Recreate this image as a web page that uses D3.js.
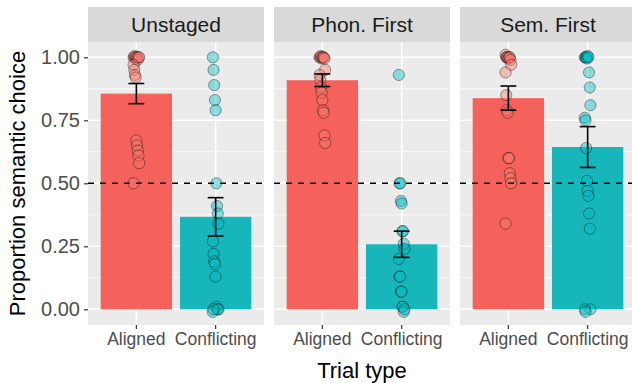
<!DOCTYPE html>
<html>
<head>
<meta charset="utf-8">
<script src="https://cdn.jsdelivr.net/npm/d3@7/dist/d3.min.js"></script>
<style>
  html, body { margin: 0; padding: 0; background: #fff; }
  svg { display: block; font-family: "Liberation Sans", Arial, Helvetica, sans-serif; }
</style>
</head>
<body>
<svg id="chart" width="632" height="383"></svg>
<script>
// Facets and trial types
const panels = ["Unstaged", "Phon. First", "Sem. First"];
const trialTypes = ["Aligned", "Conflicting"];

// Group means and standard errors per facet
const meanAligned = [0.856, 0.909, 0.838];
const meanConflicting = [0.367, 0.258, 0.644];
const seAligned = [0.040, 0.025, 0.048];
const seConflicting = [0.076, 0.052, 0.081];

// Individual participant proportions
const unstagedAligned = [1.0, 1.0, 1.005, 0.995, 1.0, 1.0, 0.99, 1.0, 1.0, 0.97, 0.95, 0.93, 0.92, 0.67, 0.65, 0.63, 0.61, 0.58, 0.50];
const unstagedConflicting = [1.0, 0.95, 0.89, 0.83, 0.79, 0.50, 0.41, 0.38, 0.34, 0.27, 0.22, 0.19, 0.18, 0.13, 0.01, 0.0, 0.0, 0.0, -0.01, 0.0];
const phonAligned = [1.0, 1.0, 1.005, 0.995, 1.0, 1.0, 1.0, 0.995, 0.95, 0.93, 0.91, 0.88, 0.86, 0.83, 0.79, 0.78, 0.69, 0.66];
const phonConflicting = [0.93, 0.50, 0.50, 0.43, 0.42, 0.31, 0.31, 0.26, 0.24, 0.20, 0.13, 0.13, 0.07, 0.07, 0.01, 0.01, -0.01, 0.0];
const semAligned = [1.01, 1.0, 1.0, 1.0, 0.995, 1.0, 1.0, 0.99, 0.97, 0.94, 0.85, 0.79, 0.78, 0.60, 0.60, 0.54, 0.52, 0.50, 0.34];
const semConflicting = [1.0, 1.0, 1.0, 0.995, 1.005, 1.0, 0.94, 0.88, 0.81, 0.76, 0.75, 0.64, 0.51, 0.47, 0.45, 0.38, 0.32, 0.0, 0.0, -0.01];

const yTicks = [0, 0.25, 0.5, 0.75, 1.0];
const yMinor = [0.125, 0.375, 0.625, 0.875];
const referenceLevel = 0.5;

const pointsByPanel = [
  [unstagedAligned, unstagedConflicting],
  [phonAligned, phonConflicting],
  [semAligned, semConflicting]
];
const meansByPanel = panels.map((p, i) => [meanAligned[i], meanConflicting[i]]);
const seByPanel = panels.map((p, i) => [seAligned[i], seConflicting[i]]);

const fillColor = d3.scaleOrdinal().domain(trialTypes).range(["#F5625C", "#17B6BA"]);
const pointColor = d3.scaleOrdinal().domain(trialTypes).range(["#F8766D", "#00BFC4"]);

// Layout
const panelW = 176, panelGap = 10, panelLeft = 88;
const stripTop = 7, stripBottom = 42, panelBottom = 325;

const y = d3.scaleLinear().domain([0, 1]).range([309.3, 57.3]);
const x = d3.scaleBand().domain(trialTypes).range([0, panelW])
  .paddingInner(0.1).paddingOuter(0.16);

const svg = d3.select("#chart");

panels.forEach((name, pi) => {
  const g = svg.append("g").attr("transform", `translate(${panelLeft + pi * (panelW + panelGap)},0)`);

  // strip
  g.append("rect").attr("x", 0).attr("y", stripTop).attr("width", panelW)
    .attr("height", stripBottom - stripTop).attr("fill", "#D9D9D9");
  g.append("text").attr("x", panelW / 2).attr("y", 32)
    .attr("text-anchor", "middle").attr("font-size", 21).attr("fill", "#1A1A1A")
    .text(name);

  // panel background
  g.append("rect").attr("x", 0).attr("y", stripBottom).attr("width", panelW)
    .attr("height", panelBottom - stripBottom).attr("fill", "#EBEBEB");

  // grid
  g.selectAll(".minor").data(yMinor).join("line")
    .attr("x1", 0).attr("x2", panelW)
    .attr("y1", d => y(d)).attr("y2", d => y(d))
    .attr("stroke", "#fff").attr("stroke-width", 0.8);
  g.selectAll(".major").data(yTicks).join("line")
    .attr("x1", 0).attr("x2", panelW)
    .attr("y1", d => y(d)).attr("y2", d => y(d))
    .attr("stroke", "#fff").attr("stroke-width", 1.5);
  g.selectAll(".vmajor").data(trialTypes).join("line")
    .attr("x1", d => x(d) + x.bandwidth() / 2).attr("x2", d => x(d) + x.bandwidth() / 2)
    .attr("y1", stripBottom).attr("y2", panelBottom)
    .attr("stroke", "#fff").attr("stroke-width", 1.5);

  // bars
  g.selectAll(".bar").data(trialTypes).join("rect")
    .attr("x", d => x(d)).attr("width", x.bandwidth())
    .attr("y", (d, i) => y(meansByPanel[pi][i]))
    .attr("height", (d, i) => y(0) - y(meansByPanel[pi][i]))
    .attr("fill", d => fillColor(d));

  // participant points with a small horizontal spread
  trialTypes.forEach((t, ti) => {
    const cx = x(t) + x.bandwidth() / 2;
    g.append("g").selectAll("circle").data(pointsByPanel[pi][ti]).join("circle")
      .attr("cx", (d, i) => cx + (((i * 37) % 9) - 4) * 0.7)
      .attr("cy", d => y(d))
      .attr("r", 5.6)
      .attr("fill", pointColor(t)).attr("fill-opacity", 0.42)
      .attr("stroke", "#000").attr("stroke-opacity", 0.38).attr("stroke-width", 1);
  });

  // error bars
  trialTypes.forEach((t, ti) => {
    const cx = x(t) + x.bandwidth() / 2;
    const m = meansByPanel[pi][ti], se = seByPanel[pi][ti];
    const cap = x.step() * 0.1;
    const eg = g.append("g").attr("stroke", "#000").attr("stroke-width", 1.6);
    eg.append("line").attr("x1", cx).attr("x2", cx).attr("y1", y(m + se)).attr("y2", y(m - se));
    eg.append("line").attr("x1", cx - cap).attr("x2", cx + cap).attr("y1", y(m + se)).attr("y2", y(m + se));
    eg.append("line").attr("x1", cx - cap).attr("x2", cx + cap).attr("y1", y(m - se)).attr("y2", y(m - se));
  });

  // chance line
  g.append("line").attr("x1", 0).attr("x2", panelW)
    .attr("y1", y(referenceLevel)).attr("y2", y(referenceLevel))
    .attr("stroke", "#000").attr("stroke-width", 1.6).attr("stroke-dasharray", "6,6");

  // x axis
  const xa = g.append("g").attr("transform", `translate(0,${panelBottom})`)
    .call(d3.axisBottom(x).tickSize(4).tickSizeOuter(0).tickPadding(4));
  xa.select(".domain").remove();
  xa.selectAll(".tick line").attr("stroke", "#333").attr("stroke-width", 1.2);
  xa.selectAll(".tick text").attr("font-size", 17.5).attr("fill", "#4D4D4D")
    .attr("font-family", null).attr("dy", "0.71em");
});

// y axis
const ya = svg.append("g").attr("transform", `translate(${panelLeft},0)`)
  .call(d3.axisLeft(y).tickValues(yTicks).tickFormat(d3.format(".2f")).tickSize(4).tickPadding(4));
ya.select(".domain").remove();
ya.selectAll(".tick line").attr("stroke", "#333").attr("stroke-width", 1.2);
ya.selectAll(".tick text").attr("font-size", 20).attr("fill", "#4D4D4D").attr("font-family", null);

// axis titles
svg.append("text").attr("x", panelLeft + (3 * panelW + 2 * panelGap) / 2).attr("y", 378)
  .attr("text-anchor", "middle").attr("font-size", 22).attr("fill", "#000").text("Trial type");
svg.append("text").attr("transform", `translate(25,${(stripBottom + panelBottom) / 2}) rotate(-90)`)
  .attr("text-anchor", "middle").attr("font-size", 22).attr("fill", "#000").text("Proportion semantic choice");
</script>
</body>
</html>
